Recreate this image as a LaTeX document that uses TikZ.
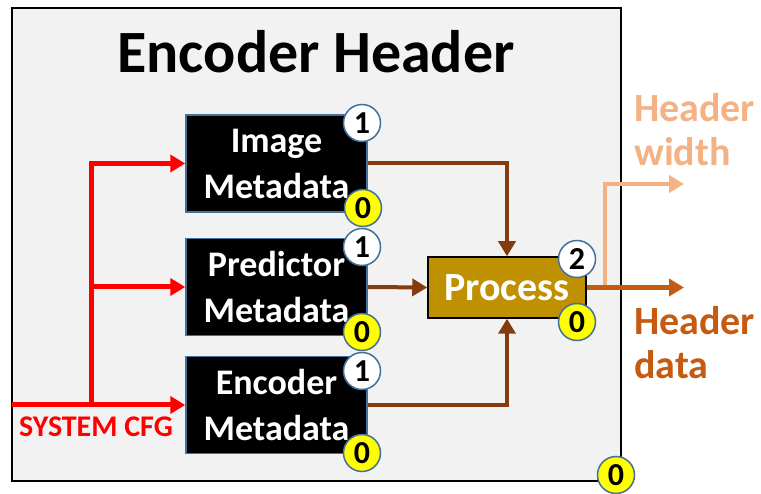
\documentclass[tikz,border=0pt]{standalone}
\usepackage{fontspec}
\setmainfont{Carlito}
\usepackage{tikz}
\usetikzlibrary{arrows.meta}
\usepackage{xcolor}
\definecolor{panelgray}{HTML}{F2F2F2}
\definecolor{rimblue}{HTML}{41719C}
\definecolor{procgold}{HTML}{BF9000}
\definecolor{linkbrown}{HTML}{843C0C}
\definecolor{dataorange}{HTML}{C55A11}
\definecolor{widthorange}{HTML}{F4B183}
\definecolor{cfgred}{HTML}{FF0000}
\definecolor{tagyellow}{HTML}{FFFF00}

\begin{document}
\begin{tikzpicture}[x=1pt, y=-1pt, >={Triangle[length=15pt, width=17pt]},
  metabox/.style={draw=rimblue, line width=1.5pt, fill=black, text=white,
    minimum width=181pt, minimum height=97pt, align=center,
    font=\fontsize{36}{46}\selectfont\bfseries},
  procbox/.style={draw=black, line width=1.5pt, fill=procgold, text=white,
    minimum width=158pt, minimum height=61pt,
    font=\fontsize{40}{40}\selectfont\bfseries},
  tag/.style={circle, draw=rimblue, line width=1.5pt, fill=white, inner sep=0pt,
    minimum size=37pt, font=\fontsize{32}{32}\selectfont\bfseries},
  zerotag/.style={tag, fill=tagyellow},
  outlabel/.style={anchor=north west, align=left, inner sep=0pt,
    font=\fontsize{40}{44}\selectfont\bfseries}]

  \useasboundingbox (0,0) rectangle (761,494);

  % ---------- frame and title ----------
  \node[draw=black, line width=1.6pt, fill=panelgray, minimum width=609pt,
    minimum height=473pt] (panel) at (316.5,244.5) {};
  \node[anchor=base, font=\fontsize{60}{60}\selectfont\bfseries] (title) at (316,73) {Encoder Header};

  % ---------- blocks ----------
  \node[metabox] (img) at (276.5,163.5) {Image\\Metadata};
  \node[metabox] (pred) at (276.5,287) {Predictor\\Metadata};
  \node[metabox] (enc) at (276.5,405) {Encoder\\Metadata};
  \node[procbox] (proc) at (507,287.5) {Process};

  % ---------- configuration feed ----------
  \coordinate (cfgin) at (12,405);
  \coordinate (trunk) at (91,405);
  \draw[cfgred, line width=5pt, ->] (cfgin) -- (enc.west);
  \draw[cfgred, line width=5pt, ->] (trunk) |- (img.west);
  \draw[cfgred, line width=5pt, ->] (trunk |- pred.west) -- (pred.west);
  \node[cfgred, anchor=base west, inner sep=0pt, font=\fontsize{30}{30}\selectfont\bfseries]
    (cfglabel) at (19,437) {SYSTEM CFG};

  % ---------- metadata into process ----------
  \draw[linkbrown, line width=4pt, ->] (img.east) -| (proc.north);
  \draw[linkbrown, line width=4pt, ->] (pred.east) -- (proc.west);
  \draw[linkbrown, line width=4pt, ->] (enc.east) -| (proc.south);

  % ---------- outputs ----------
  \coordinate (split) at (605,287.5);
  \coordinate (dataout) at (684,287.5);
  \coordinate (widthout) at (684,184);
  \draw[widthorange, line width=4.5pt, ->] (split) |- (widthout);
  \draw[dataorange, line width=5pt, ->] (proc.east) -- (dataout);
  \node[outlabel, text=widthorange] (widthlabel) at (634,93) {Header\\width};
  \node[outlabel, text=dataorange] (datalabel) at (634,306) {Header\\data};

  % ---------- level tags ----------
  \node[tag] (imgtop) at (362,123) {1};
  \node[zerotag] (imgbot) at (363,208) {0};
  \node[tag] (predtop) at (362,247) {1};
  \node[zerotag] (predbot) at (362,332) {0};
  \node[tag] (enctop) at (362,371) {1};
  \node[zerotag] (encbot) at (362,453) {0};
  \node[tag] (proctop) at (577,259) {2};
  \node[zerotag] (procbot) at (577,322) {0};
  \node[zerotag] (panelbot) at (616,475) {0};

\end{tikzpicture}
\end{document}
